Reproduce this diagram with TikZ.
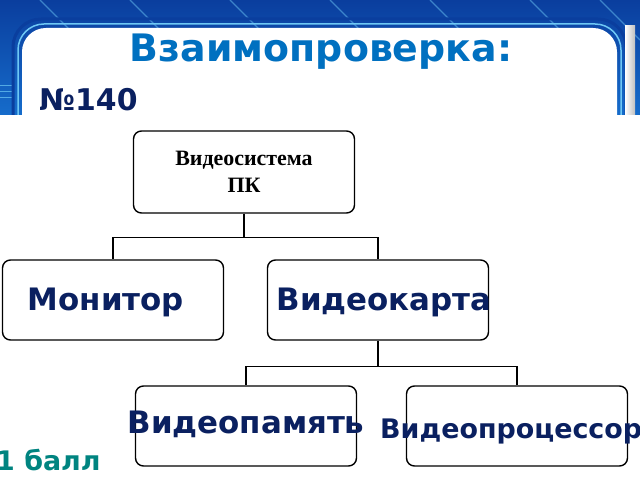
\documentclass[tikz,border=0pt]{standalone}
\usepackage{fontspec}
\setmainfont{DejaVu Sans}
\newfontfamily\bookfont{Liberation Serif}
\usepackage{tikz}
\usetikzlibrary{positioning,calc}

\definecolor{framebl}{RGB}{22,110,205}
\definecolor{framedk}{RGB}{10,62,158}
\definecolor{stripebl}{RGB}{110,200,245}
\definecolor{titlebl}{RGB}{0,112,192}
\definecolor{navy}{RGB}{10,32,96}
\definecolor{tealc}{RGB}{0,132,128}

\begin{document}
\begin{tikzpicture}[x=1bp,y=-1bp]
	\tikzset{box/.style={draw,rounded corners=8bp,line width=1.4bp,minimum width=221bp,minimum height=80bp,inner sep=0pt}}
	\tikzstyle{lbl}=[font=\bfseries\fontsize{31}{31}\selectfont,text=navy,inner sep=0pt,anchor=base]

	\useasboundingbox (0,0) rectangle (640,480);

	%% Draw slide frame
	\shade[top color=framedk,bottom color=framebl] (0,0) rectangle (640,120);
	\begin{scope}
		\clip (0,0) rectangle (640,120);
		\foreach \x in {40,130,230,330,430,530,600}
			\draw[stripebl,line width=1.2bp,opacity=.5] (\x,0) -- ++(40,40);
		\foreach \y in {86,92,98}
			\draw[stripebl,line width=1bp,opacity=.7] (0,\y) -- (14,\y);
	\end{scope}
	\draw[framedk,line width=3bp,rounded corners=28] (13,19) rectangle (626,170);
	\draw[stripebl,line width=1.5bp,rounded corners=26] (18,24) rectangle (621,170);
	\fill[white,rounded corners=24] (22,28) rectangle (617,170);
	\shade[left color=white,right color=gray!50] (625,26) rectangle (635,120);
	\fill[white] (0,115) rectangle (640,480);

	%% Header
	\node[font=\bfseries\fontsize{38}{38}\selectfont,text=titlebl,inner sep=0pt,anchor=base] (ttl) at (321,62) {Взаимопроверка:};
	\node[font=\bfseries\fontsize{30}{30}\selectfont,text=navy,inner sep=0pt,anchor=base west] (num) at (39,111) {№140};

	%% Tree of boxes
	\node[box,minimum height=82bp] (sys) at (244,172) {};
	\node[font=\bookfont\bfseries\fontsize{22}{27}\selectfont,align=center,inner sep=0pt] at (sys) {Видеосистема\\ПК};

	\node[box] (mon) at (113,300) {};
	\node[box] (card) at (378,300) {};
	\node[box] (mem) at (246,426) {};
	\node[box] (gpu) at (517,426) {};

	\node[lbl] at (106,310) {Монитор};
	\node[lbl] at (384,310) {Видеокарта};
	\node[lbl] at (246,433) {Видеопамять};
	\node[lbl,font=\bfseries\fontsize{27}{27}\selectfont,anchor=base west] at (380,438) {Видеопроцессор};

	\coordinate (j1) at ($(sys.south)+(0,24)$);
	\coordinate (j2) at ($(card.south)+(0,26)$);
	\draw[line width=1.4bp] (sys.south) -- (j1);
	\draw[line width=1.4bp] (j1) -| (mon.north);
	\draw[line width=1.4bp] (j1) -| (card.north);
	\draw[line width=1.4bp] (card.south) -- (j2);
	\draw[line width=1.4bp] (j2) -| (mem.north);
	\draw[line width=1.4bp] (j2) -| (gpu.north);

	%% Score
	\node[font=\bfseries\fontsize{27}{27}\selectfont,text=tealc,inner sep=0pt,anchor=base west] (score) at (-4,470) {1 балл};
\end{tikzpicture}
\end{document}
